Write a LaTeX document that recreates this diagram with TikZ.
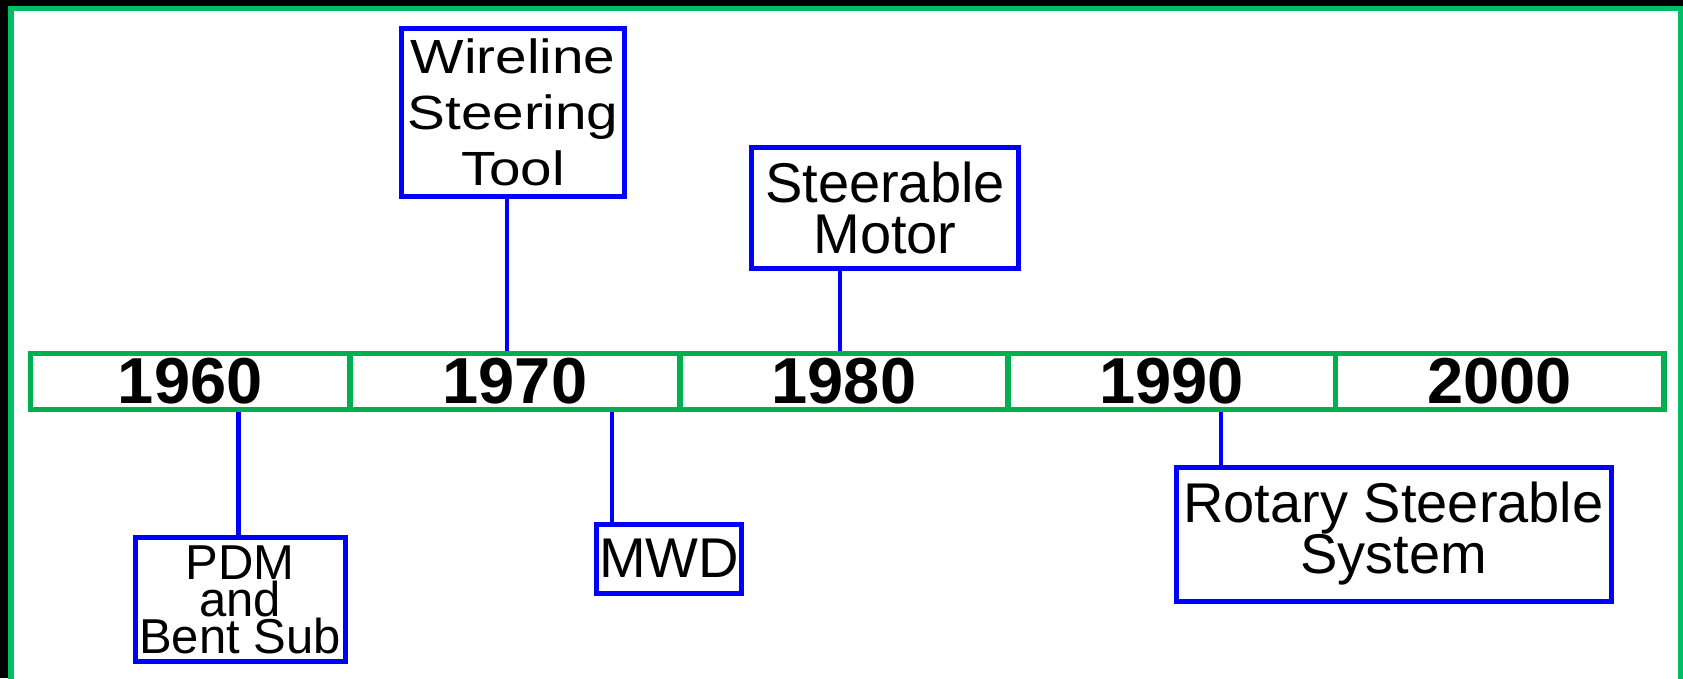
\documentclass[tikz,border=0pt]{standalone}
\usepackage{fontspec}
\setmainfont{Liberation Sans}
\newfontfamily\wfont[FakeStretch=1.18]{Liberation Sans}
\newcommand\tightls{\lineskiplimit=-100pt\relax}
\definecolor{framegreen}{RGB}{0,190,100}
\definecolor{bargreen}{RGB}{0,176,80}
\definecolor{evblue}{RGB}{0,0,255}
\tikzset{
  yearseg/.style={draw=bargreen, line width=5.5pt, minimum height=56pt, inner sep=0pt,
    font=\fontsize{65}{65}\selectfont\bfseries},
  evbox/.style={draw=evblue, line width=5pt, inner sep=0pt, align=center},
  conn/.style={evblue, line width=4.5pt}
}
\begin{document}
\begin{tikzpicture}[x=1pt,y=-1pt]
\useasboundingbox (0,0) rectangle (1683,678);
\clip (0,0) rectangle (1683,678);
\fill[black] (0,0) rectangle (1683,678);
\draw[framegreen, line width=5.5pt, fill=white] (11,8.5) rectangle (1681,700);

% connector anchors
\coordinate (c1960) at (238.3,0);
\coordinate (c1970) at (507,0);
\coordinate (c1973) at (612,0);
\coordinate (c1983) at (840,0);
\coordinate (c1991) at (1221,0);

% event boxes
\node[evbox, minimum width=223pt, minimum height=168pt,
  font=\wfont\fontsize{48}{56}\selectfont\tightls] (wire) at (513,112.5) {Wireline\\Steering\\Tool};
\node[evbox, minimum width=266.6pt, minimum height=120.5pt,
  font=\fontsize{56}{51}\selectfont\tightls] (motor) at (885,207.75) {Steerable\\Motor};
\node[evbox, minimum width=210pt, minimum height=124pt,
  font=\fontsize{49}{37}\selectfont\tightls] (pdm) at (240,599.5) {PDM\\and\\Bent Sub};
\node[evbox, minimum width=145pt, minimum height=69pt,
  font=\fontsize{56}{56}\selectfont] (mwd) at (669.25,558.5) {MWD};
\node[evbox, minimum width=435pt, minimum height=134pt,
  font=\fontsize{56}{51}\selectfont\tightls] (rss) at (1393.5,534) {Rotary Steerable\\System};

% timeline segments
\node[yearseg, minimum width=319.5pt] (s1960) at (190.25,381.5) {1960};
\node[yearseg, minimum width=330pt] (s1970) at (515,381.5) {1970};
\node[yearseg, minimum width=328pt] (s1980) at (844,381.5) {1980};
\node[yearseg, minimum width=327.5pt] (s1990) at (1171.75,381.5) {1990};
\node[yearseg, minimum width=328.5pt] (s2000) at (1499.75,381.5) {2000};

% connectors
\draw[conn] (pdm.north -| c1960) -- (s1960.south -| c1960);
\draw[conn] (wire.south -| c1970) -- (s1970.north -| c1970);
\draw[conn] (mwd.north -| c1973) -- (s1970.south -| c1973);
\draw[conn] (motor.south -| c1983) -- (s1980.north -| c1983);
\draw[conn] (rss.north -| c1991) -- (s1990.south -| c1991);
\end{tikzpicture}
\end{document}
